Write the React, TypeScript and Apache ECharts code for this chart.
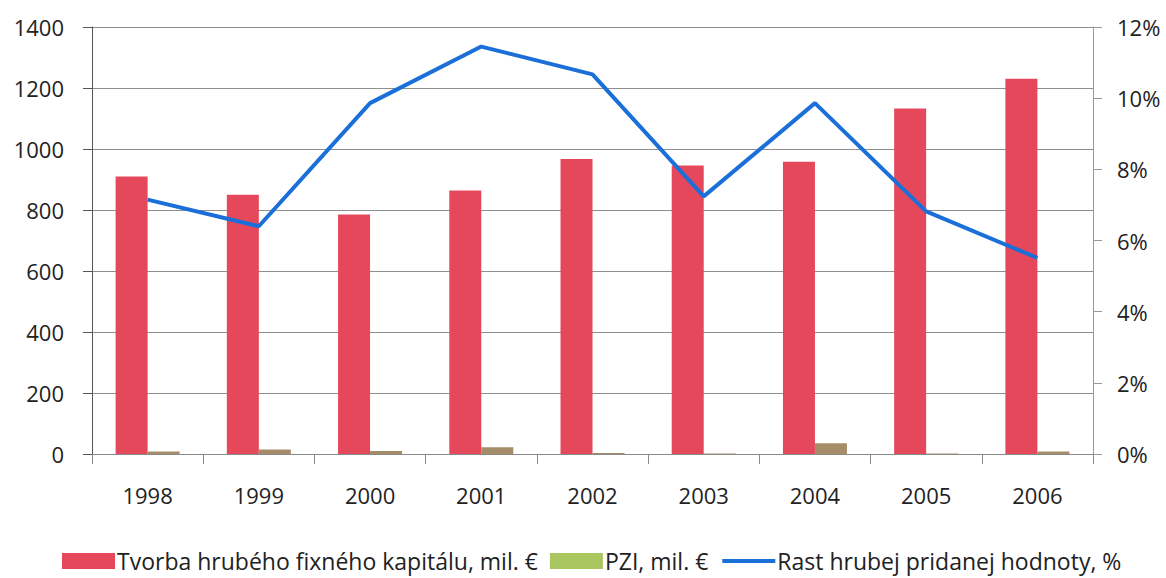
import React, { useEffect, useRef } from "react";
import * as echarts from "echarts";

const years = ["1998", "1999", "2000", "2001", "2002", "2003", "2004", "2005", "2006"];
const capitalFormation = [910, 850, 785, 864, 967, 946, 958, 1133, 1230];
const fdi = [8, 15, 10, 22, 3, 2, 35, 2, 8];
const gvaGrowth = [7.15, 6.4, 9.86, 11.45, 10.67, 7.24, 9.86, 6.82, 5.51];

const leftTicks = { min: 0, max: 1400, interval: 200 };
const rightTicks = { min: 0, max: 12, interval: 2 };

const names = [
  "Tvorba hrubého fixného kapitálu, mil. €",
  "PZI, mil. €",
  "Rast hrubej pridanej hodnoty, %",
];

const FONT = "'Open Sans', sans-serif";

export default function App() {
  const ref = useRef<HTMLDivElement>(null);
  useEffect(() => {
    if (!ref.current) return;
    const chart = echarts.init(ref.current, undefined, { renderer: "svg" });
    chart.setOption({
      animation: false,
      backgroundColor: "#ffffff",
      grid: { left: 92, right: 73, top: 27, bottom: 124, containLabel: false },
      legend: {
        top: 544,
        left: 57,
        itemWidth: 53,
        itemHeight: 16,
        itemGap: 12,
        textStyle: {
          fontFamily: FONT,
          fontSize: 23,
          lineHeight: 24,
          color: "#222",
          padding: [0, 0, 0, -3],
        },
        data: [
          { name: names[0], icon: "rect", itemStyle: { color: "#E5485B" } },
          { name: names[1], icon: "rect", itemStyle: { color: "#A9C660" } },
          {
            name: names[2],
            itemStyle: { opacity: 0 },
            lineStyle: { color: "#1B6FD8", width: 4 },
          },
        ],
      },
      xAxis: {
        type: "category",
        data: years,
        axisLine: { lineStyle: { color: "#8a8a8a", width: 1 } },
        axisTick: { show: true, length: 10, lineStyle: { color: "#8a8a8a" } },
        axisLabel: { fontFamily: FONT, fontSize: 22, color: "#222", margin: 30 },
      },
      yAxis: [
        {
          type: "value",
          ...leftTicks,
          axisLine: { show: true, lineStyle: { color: "#555", width: 1 } },
          axisTick: { show: true, length: 9, lineStyle: { color: "#555" } },
          axisLabel: {
            fontFamily: FONT,
            fontSize: 22,
            color: "#222",
            margin: 28,
            formatter: (v: number) => String(v),
          },
          splitLine: { show: true, lineStyle: { color: "#8f8f8f", width: 1 } },
        },
        {
          type: "value",
          ...rightTicks,
          position: "right",
          axisLine: { show: true, lineStyle: { color: "#999", width: 1 } },
          axisTick: { show: true, length: 9, lineStyle: { color: "#999" } },
          axisLabel: {
            fontFamily: FONT,
            fontSize: 22,
            color: "#222",
            margin: 24,
            formatter: "{value}%",
          },
          splitLine: { show: false },
        },
      ],
      series: [
        {
          name: names[0],
          type: "bar",
          data: capitalFormation,
          barWidth: 32,
          barGap: "0%",
          itemStyle: { color: "#E5485B" },
        },
        {
          name: names[1],
          type: "bar",
          data: fdi,
          barWidth: 32,
          barGap: "0%",
          itemStyle: { color: "#A68D6A" },
        },
        {
          name: names[2],
          type: "line",
          yAxisIndex: 1,
          data: gvaGrowth,
          symbol: "none",
          lineStyle: { color: "#1B6FD8", width: 4 },
          itemStyle: { color: "#1B6FD8" },
        },
      ],
    });
    return () => chart.dispose();
  }, []);
  return (
    <div
      ref={ref}
      style={{ position: "fixed", left: 0, top: 0, width: 1166, height: 578, background: "#fff" }}
    />
  );
}
